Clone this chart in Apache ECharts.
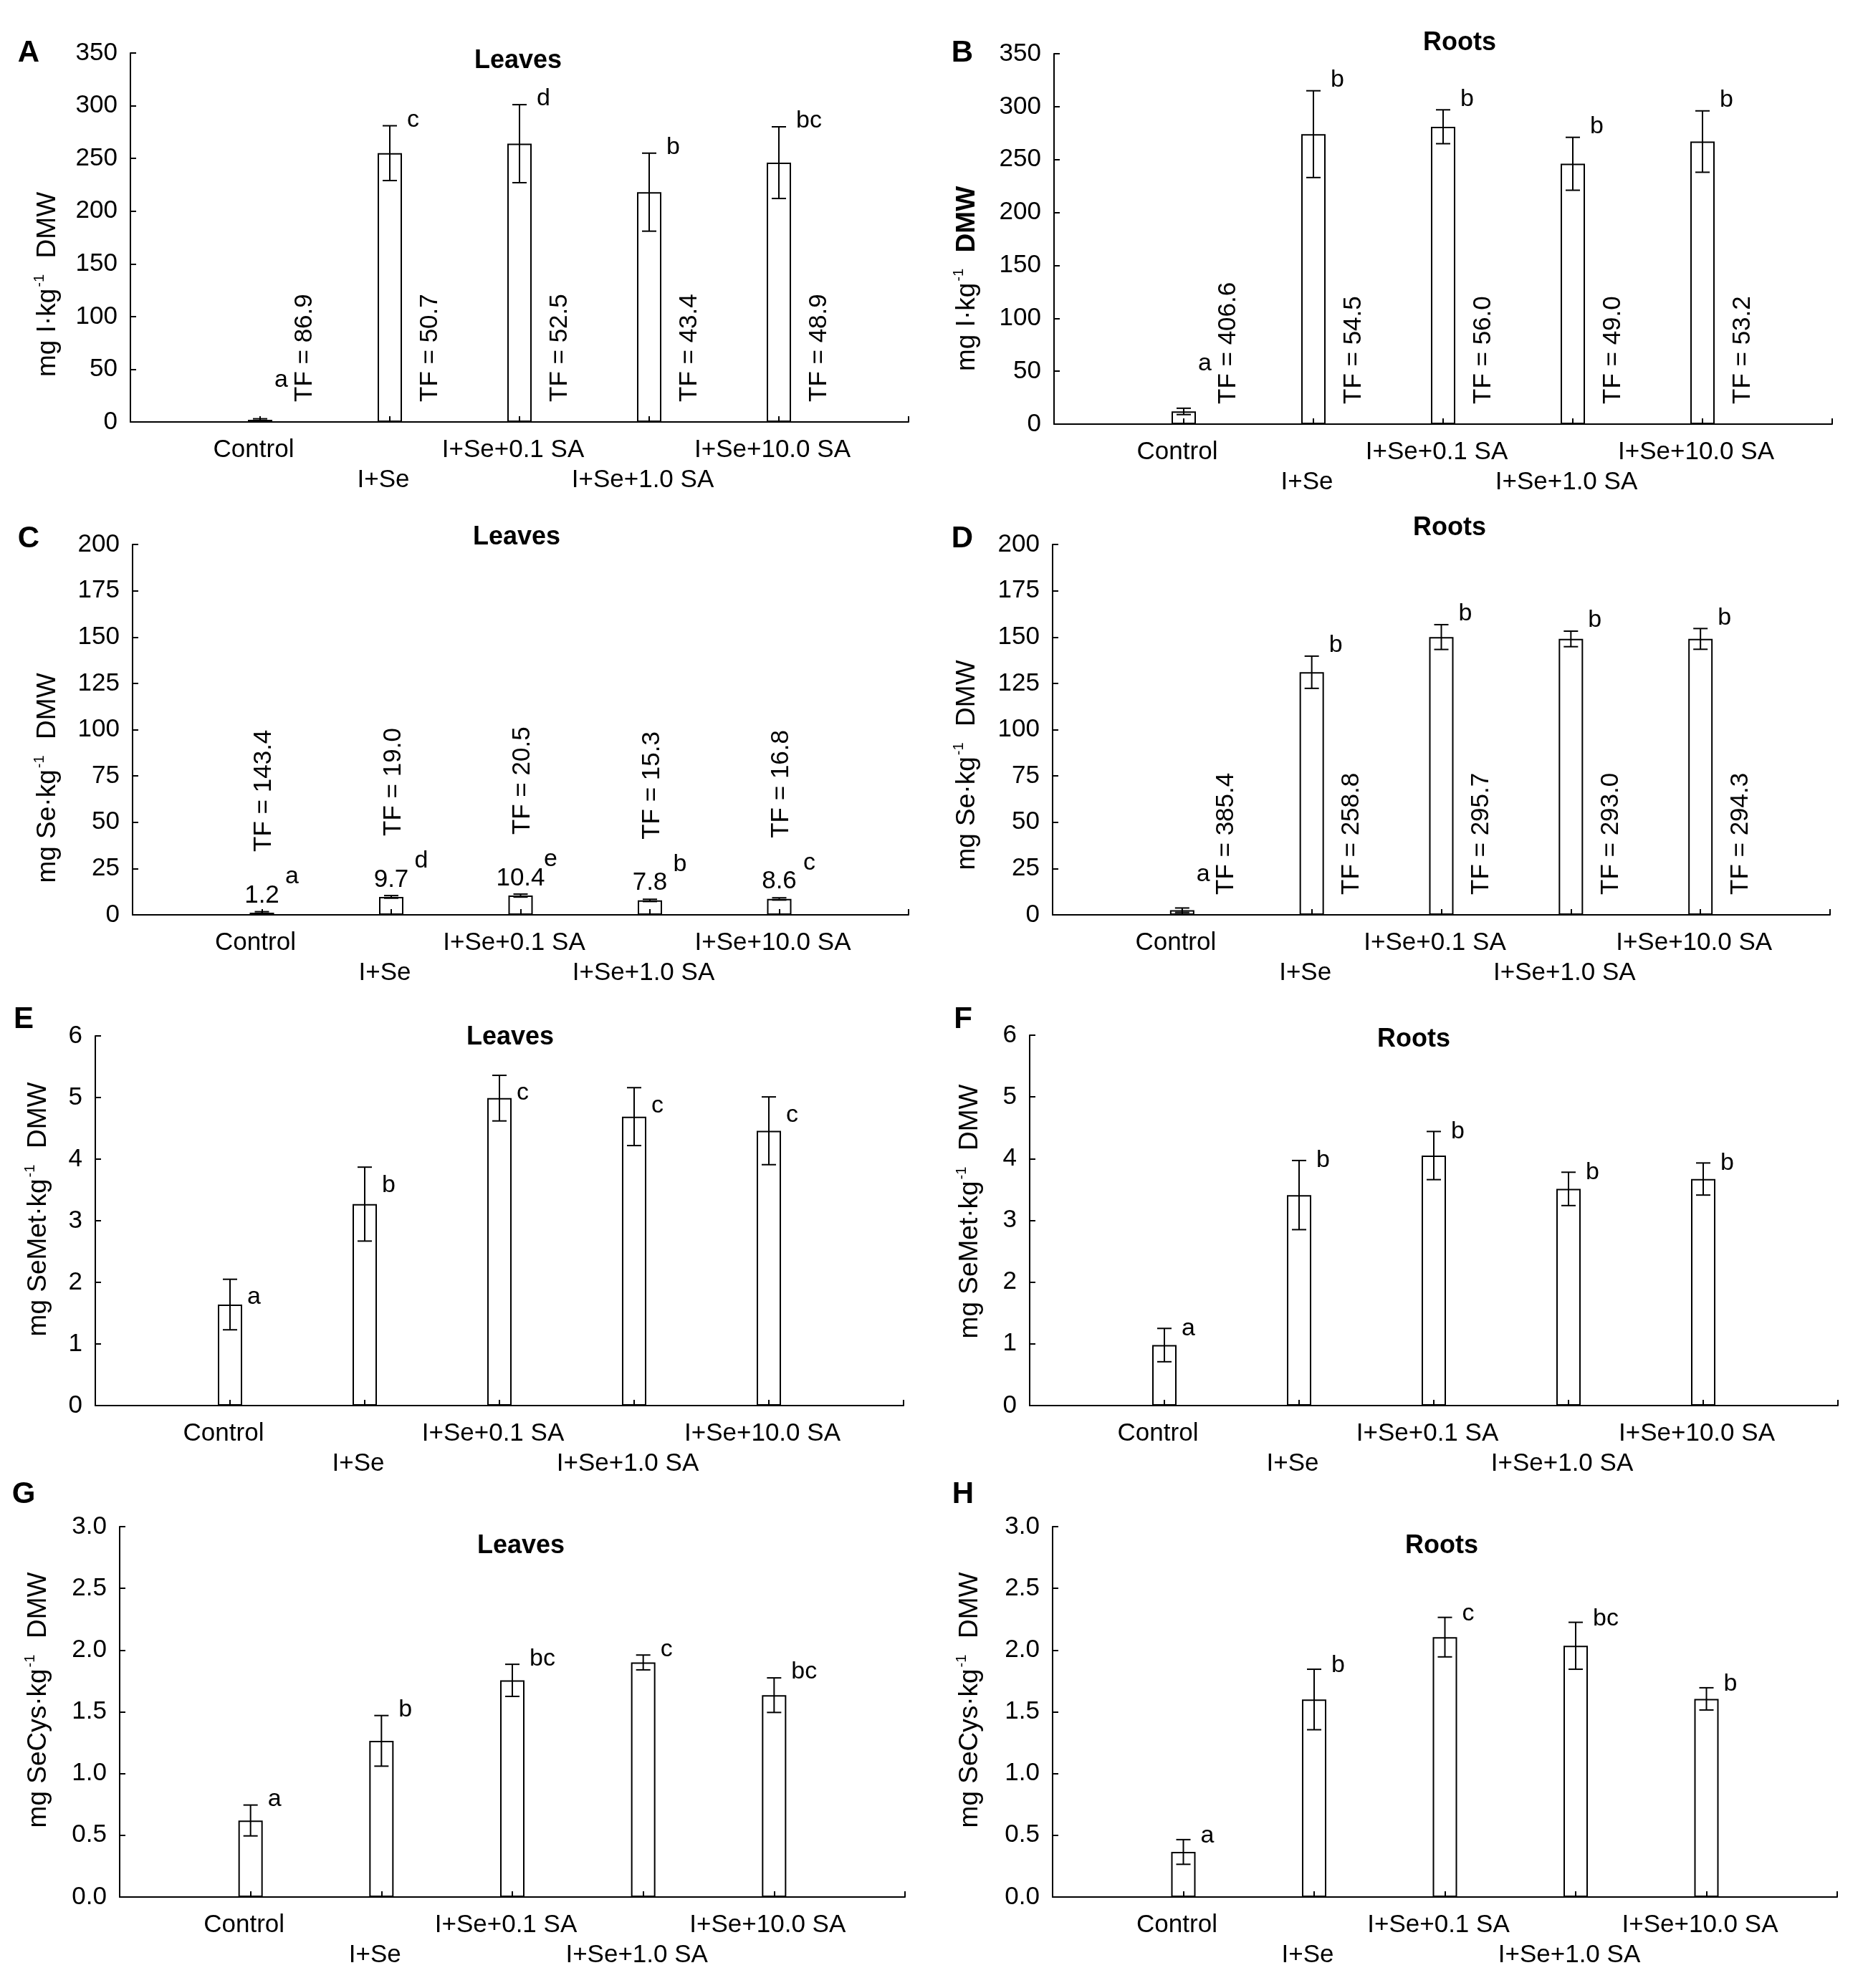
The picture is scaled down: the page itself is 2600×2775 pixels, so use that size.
<!DOCTYPE html>
<html><head><meta charset="utf-8">
<script src="https://cdn.jsdelivr.net/npm/echarts@6/dist/echarts.min.js"></script>
<style>html,body{margin:0;padding:0;background:#fff}#c{width:2600px;height:2775px}</style>
</head><body><div id="c"></div>
<script>
// ---------------- DATA ----------------
const categories = ['Control', 'I+Se', 'I+Se+0.1 SA', 'I+Se+1.0 SA', 'I+Se+10.0 SA'];

// A: iodine, leaves
const iodineLeaves = [2.0, 255, 264, 218, 246];
const iodineLeavesErr = [1.0, 26, 37, 37, 34];
const iodineLeavesLetters = ['a', 'c', 'd', 'b', 'bc'];
const iodineLeavesTF = ['86.9', '50.7', '52.5', '43.4', '48.9'];
// B: iodine, roots
const iodineRoots = [12, 274, 281, 246, 267];
const iodineRootsErr = [3, 41, 16, 25, 29];
const iodineRootsLetters = ['a', 'b', 'b', 'b', 'b'];
const iodineRootsTF = ['406.6', '54.5', '56.0', '49.0', '53.2'];
// C: selenium, leaves
const seLeaves = [1.2, 9.7, 10.4, 7.8, 8.6];
const seLeavesErr = [0.5, 0.7, 0.8, 0.6, 0.6];
const seLeavesLetters = ['a', 'd', 'e', 'b', 'c'];
const seLeavesTF = ['143.4', '19.0', '20.5', '15.3', '16.8'];
// D: selenium, roots
const seRoots = [2.5, 131, 150, 149, 149];
const seRootsErr = [1.2, 8.7, 6.7, 4.2, 5.6];
const seRootsLetters = ['a', 'b', 'b', 'b', 'b'];
const seRootsTF = ['385.4', '258.8', '295.7', '293.0', '294.3'];
// E: SeMet, leaves
const seMetLeaves = [1.64, 3.27, 4.99, 4.69, 4.46];
const seMetLeavesErr = [0.41, 0.60, 0.37, 0.47, 0.55];
const seMetLeavesLetters = ['a', 'b', 'c', 'c', 'c'];
// F: SeMet, roots
const seMetRoots = [0.98, 3.41, 4.05, 3.51, 3.67];
const seMetRootsErr = [0.27, 0.56, 0.39, 0.27, 0.26];
const seMetRootsLetters = ['a', 'b', 'b', 'b', 'b'];
// G: SeCys, leaves
const seCysLeaves = [0.62, 1.265, 1.755, 1.90, 1.635];
const seCysLeavesErr = [0.125, 0.205, 0.13, 0.06, 0.14];
const seCysLeavesLetters = ['a', 'b', 'bc', 'c', 'bc'];
// H: SeCys, roots
const seCysRoots = [0.365, 1.60, 2.105, 2.035, 1.605];
const seCysRootsErr = [0.10, 0.245, 0.16, 0.19, 0.09];
const seCysRootsLetters = ['a', 'b', 'c', 'bc', 'b'];

// y axis ranges / tick labels
const ticksIodine = { max: 350, interval: 50, decimals: 0 };
const ticksSe = { max: 200, interval: 25, decimals: 0 };
const ticksSeMet = { max: 6, interval: 1, decimals: 0 };
const ticksSeCys = { max: 3, interval: 0.5, decimals: 1 };

// ---------------- LAYOUT ----------------
const FONT = '"Liberation Sans", Arial, Helvetica, sans-serif';
const axisCategories = [''].concat(categories, ['']);

const panels = [
  { tag: 'A', title: 'Leaves', unit: 'I', bold: false, vals: iodineLeaves, err: iodineLeavesErr, let: iodineLeavesLetters, tf: iodineLeavesTF, ticks: ticksIodine, mode: 'side', dy: -8, lowGap: 58,
    box: [182, 74, 1268, 589], titlePos: [723, 85], namePos: [67, 397], tagPos: [40, 74] },
  { tag: 'B', title: 'Roots', unit: 'I', bold: true, vals: iodineRoots, err: iodineRootsErr, let: iodineRootsLetters, tf: iodineRootsTF, ticks: ticksIodine, mode: 'side', dy: -15, lowGap: 84,
    box: [1471, 75, 2557, 592], titlePos: [2037, 60], namePos: [1350, 389], tagPos: [1343, 74] },
  { tag: 'C', title: 'Leaves', unit: 'Se', bold: false, vals: seLeaves, err: seLeavesErr, let: seLeavesLetters, tf: seLeavesTF, ticks: ticksSe, mode: 'above', dy: 0, lowGap: 60,
    box: [185, 760, 1268, 1277], titlePos: [721, 750], namePos: [67, 1086], tagPos: [40, 752] },
  { tag: 'D', title: 'Roots', unit: 'Se', bold: false, vals: seRoots, err: seRootsErr, let: seRootsLetters, tf: seRootsTF, ticks: ticksSe, mode: 'side', dy: -15, lowGap: 56,
    box: [1469, 760, 2554, 1277], titlePos: [2023, 737], namePos: [1350, 1068], tagPos: [1343, 752] },
  { tag: 'E', title: 'Leaves', unit: 'SeMet', bold: false, vals: seMetLeaves, err: seMetLeavesErr, let: seMetLeavesLetters, tf: null, ticks: ticksSeMet, mode: 'side', dy: 25, lowGap: 60,
    box: [133, 1446, 1261, 1962], titlePos: [712, 1448], namePos: [54, 1688], tagPos: [33, 1423] },
  { tag: 'F', title: 'Roots', unit: 'SeMet', bold: false, vals: seMetRoots, err: seMetRootsErr, let: seMetRootsLetters, tf: null, ticks: ticksSeMet, mode: 'side', dy: 0, lowGap: 60,
    box: [1437, 1445, 2565, 1962], titlePos: [1973, 1451], namePos: [1354, 1691], tagPos: [1344, 1423] },
  { tag: 'G', title: 'Leaves', unit: 'SeCys', bold: false, vals: seCysLeaves, err: seCysLeavesErr, let: seCysLeavesLetters, tf: null, ticks: ticksSeCys, mode: 'side', dy: -8, lowGap: 60,
    box: [167, 2131, 1263, 2648], titlePos: [727, 2158], namePos: [54, 2373], tagPos: [33, 2086] },
  { tag: 'H', title: 'Roots', unit: 'SeCys', bold: false, vals: seCysRoots, err: seCysRootsErr, let: seCysRootsLetters, tf: null, ticks: ticksSeCys, mode: 'side', dy: -5, lowGap: 60,
    box: [1469, 2131, 2564, 2648], titlePos: [2012, 2158], namePos: [1354, 2373], tagPos: [1344, 2086] }
];

function txt(s, x, y, size, align, valign, rot, weight) {
  return {
    type: 'text', x: x, y: y, rotation: rot || 0, z2: 10,
    style: { text: s, x: 0, y: 0, fill: '#000', font: (weight || 'normal') + ' ' + size + 'px ' + FONT,
      align: align, verticalAlign: valign, textAlign: align, textVerticalAlign: valign }
  };
}

function makeRender(p) {
  return function (params, api) {
    const idx = params.dataIndex;
    const xi = api.value(0), v = api.value(1), e = api.value(2);
    const pt = api.coord([xi, v]);
    const pTop = api.coord([xi, v + e]);
    const pBot = api.coord([xi, Math.max(v - e, 0)]);
    const pZero = api.coord([xi, 0]);
    const cx = pt[0];
    const cap = 10;
    const ls = { stroke: '#000', lineWidth: 2 };
    const children = [
      { type: 'line', shape: { x1: cx, y1: pTop[1], x2: cx, y2: pBot[1] }, style: ls },
      { type: 'line', shape: { x1: cx - cap, y1: pTop[1], x2: cx + cap, y2: pTop[1] }, style: ls },
      { type: 'line', shape: { x1: cx - cap, y1: pBot[1], x2: cx + cap, y2: pBot[1] }, style: ls }
    ];
    const letter = p.let[idx];
    if (p.mode === 'above') {
      const labelY = pt[1] - 24;
      children.push(txt(v.toFixed(1), cx, labelY, 35, 'center', 'middle'));
      children.push(txt(letter, cx + 42, labelY - 26, 34, 'center', 'middle'));
      if (p.tf) children.push(txt('TF = ' + p.tf[idx], cx + 3, pt[1] - 85, 35, 'left', 'middle', Math.PI / 2));
    } else {
      const low = pTop[1] + p.dy > pZero[1] - p.lowGap;
      const ly = low ? pZero[1] - p.lowGap : pTop[1] + p.dy;
      children.push(txt(letter, cx + (low ? 20 : 24), ly, 34, 'left', 'middle'));
      if (p.tf) children.push(txt('TF = ' + p.tf[idx], cx + (low ? 62 : 56), pZero[1] - 28, 35, 'left', 'middle', Math.PI / 2));
    }
    return { type: 'group', children: children };
  };
}

const grids = [], xAxes = [], yAxes = [], series = [], graphics = [];
panels.forEach(function (p, k) {
  const b = p.box;
  grids.push({ left: b[0], top: b[1], width: b[2] - b[0], height: b[3] - b[1], containLabel: false, outerBoundsMode: 'none' });
  xAxes.push({
    type: 'category', gridIndex: k, data: axisCategories, boundaryGap: false,
    axisLine: { lineStyle: { color: '#000', width: 2 } },
    axisTick: { inside: true, length: 8, lineStyle: { color: '#000', width: 2 } },
    axisLabel: { interval: 0, margin: 18, fontSize: 35, lineHeight: 42, color: '#000', fontFamily: FONT,
      padding: [0, 18, 0, 0],
      formatter: function (v, i) { return (i % 2 === 0 && v) ? '\n' + v : v; } },
    splitLine: { show: false }
  });
  const t = p.ticks;
  yAxes.push({
    type: 'value', gridIndex: k, min: 0, max: t.max, interval: t.interval,
    axisLine: { show: true, lineStyle: { color: '#000', width: 2 } },
    axisTick: { show: true, inside: true, length: 8, lineStyle: { color: '#000', width: 2 } },
    splitLine: { show: false },
    axisLabel: { margin: 18, fontSize: 35, color: '#000', fontFamily: FONT,
      formatter: function (v) { return v.toFixed(t.decimals); } }
  });
  series.push({
    type: 'bar', xAxisIndex: k, yAxisIndex: k, barWidth: 34, silent: true,
    data: ['-'].concat(p.vals, ['-']),
    itemStyle: { color: 'rgba(255,255,255,0)', borderColor: '#000', borderWidth: 2 }
  });
  series.push({
    type: 'custom', xAxisIndex: k, yAxisIndex: k, silent: true, z: 5,
    data: p.vals.map(function (v, i) { return [i + 1, v, p.err[i]]; }),
    renderItem: makeRender(p)
  });
  // panel tag, title, axis name
  graphics.push(txt(p.tag, p.tagPos[0], p.tagPos[1], 42, 'center', 'middle', 0, 'bold'));
  graphics.push(txt(p.title, p.titlePos[0], p.titlePos[1], 36, 'center', 'middle', 0, 'bold'));
  graphics.push({
    type: 'text', x: p.namePos[0], y: p.namePos[1], rotation: Math.PI / 2,
    style: {
      text: '{n|mg ' + p.unit + '·kg}{s|-1}{n|  }' + (p.bold ? '{b|DMW}' : '{n|DMW}'),
      x: 0, y: 0, align: 'center', verticalAlign: 'middle', textAlign: 'center', textVerticalAlign: 'middle',
      fill: '#000',
      rich: {
        n: { fontSize: 37, fontFamily: FONT, lineHeight: 44, fill: '#000', color: '#000' },
        b: { fontSize: 37, fontFamily: FONT, fontWeight: 'bold', lineHeight: 44, fill: '#000', color: '#000' },
        s: { fontSize: 20, fontFamily: FONT, lineHeight: 44, verticalAlign: 'top', padding: [0, 2, 0, 2], fill: '#000', color: '#000' }
      }
    }
  });
});

const chart = echarts.init(document.getElementById('c'), null, { renderer: 'canvas' });
chart.setOption({
  animation: false,
  backgroundColor: '#fff',
  textStyle: { fontFamily: FONT, color: '#000' },
  grid: grids, xAxis: xAxes, yAxis: yAxes, series: series,
  graphic: { elements: graphics }
});
</script></body></html>
